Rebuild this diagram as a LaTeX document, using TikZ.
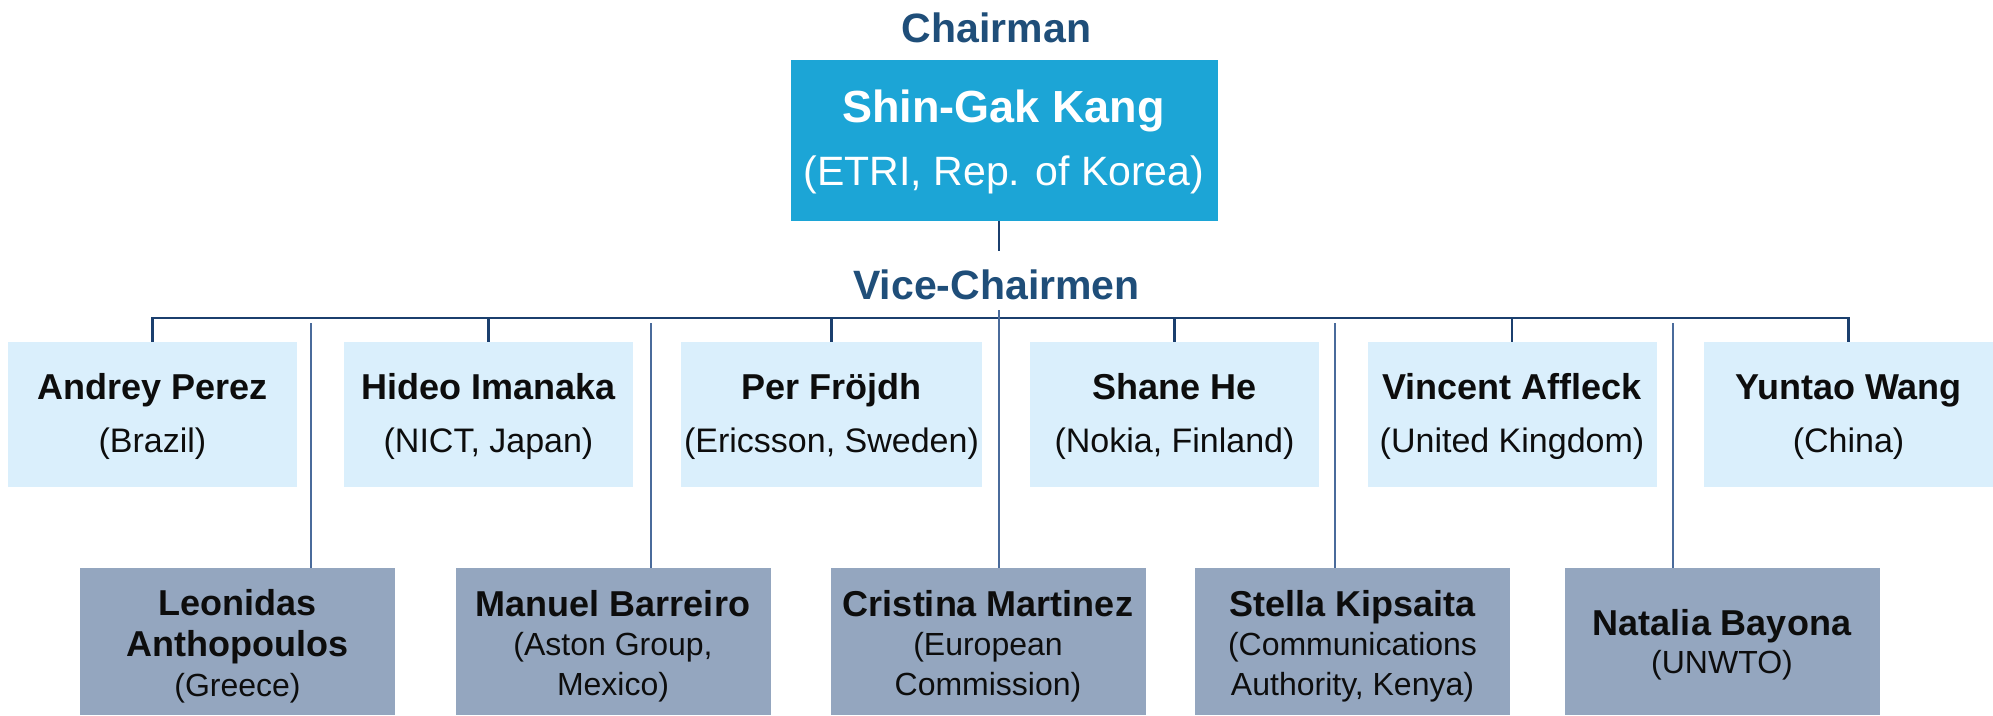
\documentclass[tikz,border=0pt]{standalone}
\usepackage{fontspec}
\setmainfont{Liberation Sans}
\definecolor{chairblue}{HTML}{1CA5D6}
\definecolor{topfill}{HTML}{DAEFFC}
\definecolor{botfill}{HTML}{94A6BF}
\definecolor{navytext}{HTML}{1F4E79}
\definecolor{navyline}{HTML}{1B3F6E}
\definecolor{subline}{HTML}{4A6B9B}
\definecolor{inktext}{HTML}{0D0D0D}
\tikzset{
  chairbox/.style={fill=chairblue, draw=none, minimum width=427pt, minimum height=161pt, inner sep=0pt},
  topbox/.style={fill=topfill, draw=none, minimum width=289pt, minimum height=145pt, inner sep=0pt},
  botbox/.style={fill=botfill, draw=none, minimum width=315pt, minimum height=147pt, inner sep=0pt},
  title/.style={anchor=base, inner sep=0pt, text=navytext, font=\fontsize{41}{48}\selectfont\bfseries},
  chname/.style={anchor=base, inner sep=0pt, text=white, font=\fontsize{45}{52}\selectfont\bfseries},
  chaff/.style={anchor=base, inner sep=0pt, text=white, font=\fontsize{41}{48}\selectfont},
  pname/.style={anchor=base, inner sep=0pt, text=inktext, font=\fontsize{36}{42}\selectfont\bfseries},
  taff/.style={anchor=base, inner sep=0pt, text=inktext, font=\fontsize{34}{40}\selectfont},
  baff/.style={anchor=base, inner sep=0pt, text=inktext, font=\fontsize{32}{38}\selectfont},
  mainline/.style={draw=navyline, line width=2.2pt},
  thinline/.style={draw=subline, line width=2pt},
}
\begin{document}
\begin{tikzpicture}[x=1pt, y=-1pt]
\useasboundingbox (0,0) rectangle (1993,715);

% Chairman
\node[title] (chtitle) at (996.5,42) {Chairman};
\node[chairbox] (ch) at (1004.5,140.5) {};
\node[chname] (chn) at (1003.5,122) {Shin-Gak Kang};
\node[chaff] (cha) at (1004,185) {(ETRI, Rep. of Korea)};

\node[title] (vctitle) at (996.5,299) {Vice-Chairmen};

% Top boxes
\node[topbox] (t1) at (152.5,414.5) {};
\node[topbox] (t2) at (488.5,414.5) {};
\node[topbox, minimum width=301pt] (t3) at (831.5,414.5) {};
\node[topbox] (t4) at (1174.5,414.5) {};
\node[topbox] (t5) at (1512,414.5) {};
\node[topbox] (t6) at (1848.5,414.5) {};

\node[pname] (t1n) at (152.5,399) {Andrey Perez};
\node[taff]  (t1a) at (152.5,452) {(Brazil)};
\node[pname] (t2n) at (488.5,399) {Hideo Imanaka};
\node[taff]  (t2a) at (488.5,452) {(NICT, Japan)};
\node[pname] (t3n) at (831.5,399) {Per Fröjdh};
\node[taff]  (t3a) at (831.5,452) {(Ericsson, Sweden)};
\node[pname] (t4n) at (1174.5,399) {Shane He};
\node[taff]  (t4a) at (1174.5,452) {(Nokia, Finland)};
\node[pname] (t5n) at (1512,399) {Vincent Affleck};
\node[taff]  (t5a) at (1512,452) {(United Kingdom)};
\node[pname] (t6n) at (1848.5,399) {Yuntao Wang};
\node[taff]  (t6a) at (1848.5,452) {(China)};

% Bottom boxes
\node[botbox] (b1) at (237.5,641.5) {};
\node[botbox] (b2) at (613,641.5) {};
\node[botbox] (b3) at (988,641.5) {};
\node[botbox] (b4) at (1352.5,641.5) {};
\node[botbox] (b5) at (1722,641.5) {};

\node[pname] (b1n1) at (237.5,615) {Leonidas};
\node[pname] (b1n2) at (237.5,656) {Anthopoulos};
\node[baff]  (b1a)  at (237.5,696) {(Greece)};
\node[pname] (b2n)  at (613,616) {Manuel Barreiro};
\node[baff]  (b2a1) at (613,655) {(Aston Group,};
\node[baff]  (b2a2) at (613,695) {Mexico)};
\node[pname] (b3n)  at (988,616) {Cristina Martinez};
\node[baff]  (b3a1) at (988,655) {(European};
\node[baff]  (b3a2) at (988,695) {Commission)};
\node[pname] (b4n)  at (1352.5,616) {Stella Kipsaita};
\node[baff]  (b4a1) at (1352.5,655) {(Communications};
\node[baff]  (b4a2) at (1352.5,695) {Authority, Kenya)};
\node[pname] (b5n)  at (1722,635) {Natalia Bayona};
\node[baff]  (b5a)  at (1722,673) {(UNWTO)};

% Connectors
\coordinate (chdrop) at (999,251);
\coordinate (bar) at (999,318);
\coordinate (vc) at (999,310);
\coordinate (s1) at (311,323);
\coordinate (s2) at (651,323);
\coordinate (s4) at (1335,323);
\coordinate (s5) at (1673,323);

\draw[mainline] (ch.south -| chdrop) -- (chdrop);
\draw[mainline] (t1.north) |- (bar) -| (t6.north);
\draw[mainline] (t2.north) -- (t2.north |- bar);
\draw[mainline] (t3.north) -- (t3.north |- bar);
\draw[mainline] (t4.north) -- (t4.north |- bar);
\draw[mainline] (t5.north) -- (t5.north |- bar);

\draw[thinline] (vc) -- (vc |- b3.north);
\draw[thinline] (s1) -- (s1 |- b1.north);
\draw[thinline] (s2) -- (s2 |- b2.north);
\draw[thinline] (s4) -- (s4 |- b4.north);
\draw[thinline] (s5) -- (s5 |- b5.north);
\end{tikzpicture}
\end{document}
